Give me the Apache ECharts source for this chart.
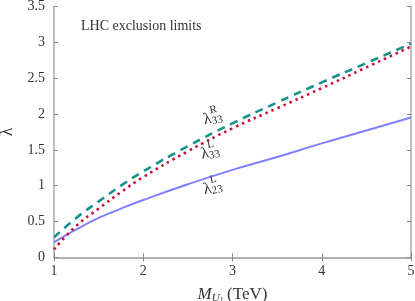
<!DOCTYPE html>
<html><head><meta charset="utf-8">
<script src="https://cdn.jsdelivr.net/npm/echarts@6/dist/echarts.min.js"></script>
<style>html,body{margin:0;padding:0;background:#fff}#c{width:415px;height:301px}</style>
</head><body><div id="c"></div>
<script>
const masses = [1, 1.25, 1.5, 1.75, 2, 2.5, 3, 3.5, 4, 4.5, 5];
const lambdaR33 = [0.28, 0.55, 0.78, 1.00, 1.20, 1.55, 1.87, 2.16, 2.44, 2.71, 2.98];
const lambdaL33 = [0.11, 0.44, 0.68, 0.91, 1.12, 1.48, 1.80, 2.08, 2.36, 2.65, 2.94];
const lambdaL23 = [0.21, 0.39, 0.55, 0.68, 0.80, 1.02, 1.22, 1.40, 1.59, 1.77, 1.95];
const xTicks = [1, 2, 3, 4, 5];
const yTicks = [0, 0.5, 1, 1.5, 2, 2.5, 3, 3.5];
const curveLabels = [
  {name: 'R33', sup: 'R', sub: '33', at: [2.78, 1.94]},
  {name: 'L33', sup: 'L', sub: '33', at: [2.75, 1.46]},
  {name: 'L23', sup: 'L', sub: '23', at: [2.78, 0.97]}
];
const FONT = 'Liberation Serif';
const pairs = arr => masses.map((m, i) => [m, arr[i]]);

const chart = echarts.init(document.getElementById('c'), null, {renderer: 'canvas'});
const axisLine = {show: true, lineStyle: {color: '#aaaaaa', width: 1.5}};
const axisTick = {show: true, inside: true, length: 4, lineStyle: {color: '#888888', width: 1}};
const lbl = {fontFamily: FONT, fontSize: 14, color: '#333'};

function markFor(item) {
  return {
    symbol: 'none', silent: true, animation: false,
    data: [
      {coord: item.at, symbol: 'circle', symbolSize: 0,
        label: {show: true, position: 'inside', rotate: 12, formatter: '{l|λ}{s|' + item.sub + '}',
          rich: {l: {fontFamily: FONT, fontSize: 16, color: '#333'},
                 s: {fontFamily: FONT, fontSize: 11, color: '#333', padding: [6, 0, 0, 0]}}}},
      {coord: item.at, symbol: 'circle', symbolSize: 0,
        label: {show: true, position: 'inside', rotate: 12, offset: [2, -8], formatter: '{s|' + item.sup + '}',
          rich: {s: {fontFamily: FONT, fontSize: 11, color: '#333'}}}}
    ]
  };
}

chart.setOption({
  animation: false,
  backgroundColor: '#fff',
  title: {text: 'LHC exclusion limits', left: 81, top: 19, padding: 0,
    textStyle: {fontFamily: FONT, fontSize: 14, fontWeight: 'normal', color: '#333'}},
  grid: {left: 54, right: 4, top: 6.4, bottom: 43.6, containLabel: false, outerBoundsMode: 'none'},
  xAxis: [
    {type: 'value', min: 1, max: 5, interval: 1, position: 'bottom',
      axisLine, axisTick, splitLine: {show: false},
      axisLabel: Object.assign({margin: 7}, lbl),
      name: '{m|M}{u|U}{o|1} {t|(TeV)}', nameLocation: 'middle', nameGap: 26,
      nameTextStyle: {rich: {
        m: {fontFamily: FONT, fontStyle: 'italic', fontSize: 17, color: '#333'},
        u: {fontFamily: FONT, fontStyle: 'italic', fontSize: 11, color: '#333', padding: [8, 0, 0, 0]},
        o: {fontFamily: FONT, fontSize: 8, color: '#333', padding: [14, 0, 0, 0]},
        t: {fontFamily: FONT, fontSize: 17, color: '#333'}}}},
    {type: 'value', min: 1, max: 5, interval: 1, position: 'top',
      axisLine, axisTick, splitLine: {show: false}, axisLabel: {show: false}}
  ],
  yAxis: [
    {type: 'value', min: 0, max: 3.5, interval: 0.5, position: 'left',
      axisLine, axisTick, splitLine: {show: false},
      axisLabel: Object.assign({margin: 9}, lbl),
      name: 'λ', nameLocation: 'middle', nameGap: 38, nameRotate: 90,
      nameTextStyle: {fontFamily: FONT, fontSize: 18, color: '#333'}},
    {type: 'value', min: 0, max: 3.5, interval: 0.5, position: 'right',
      axisLine, axisTick, splitLine: {show: false}, axisLabel: {show: false}}
  ],
  series: [
    {name: 'λR33', type: 'line', smooth: true, showSymbol: false, data: pairs(lambdaR33),
      lineStyle: {color: '#17928c', width: 2.6, type: [8, 6]}, markPoint: markFor(curveLabels[0]), z: 3},
    {name: 'λL33', type: 'line', smooth: true, showSymbol: false, data: pairs(lambdaL33),
      lineStyle: {color: '#c8103c', width: 2.6, type: [2.5, 4]}, markPoint: markFor(curveLabels[1]), z: 4},
    {name: 'λL23', type: 'line', smooth: true, showSymbol: false, data: pairs(lambdaL23),
      lineStyle: {color: '#8080ff', width: 2}, markPoint: markFor(curveLabels[2]), z: 2}
  ]
});
</script></body></html>
